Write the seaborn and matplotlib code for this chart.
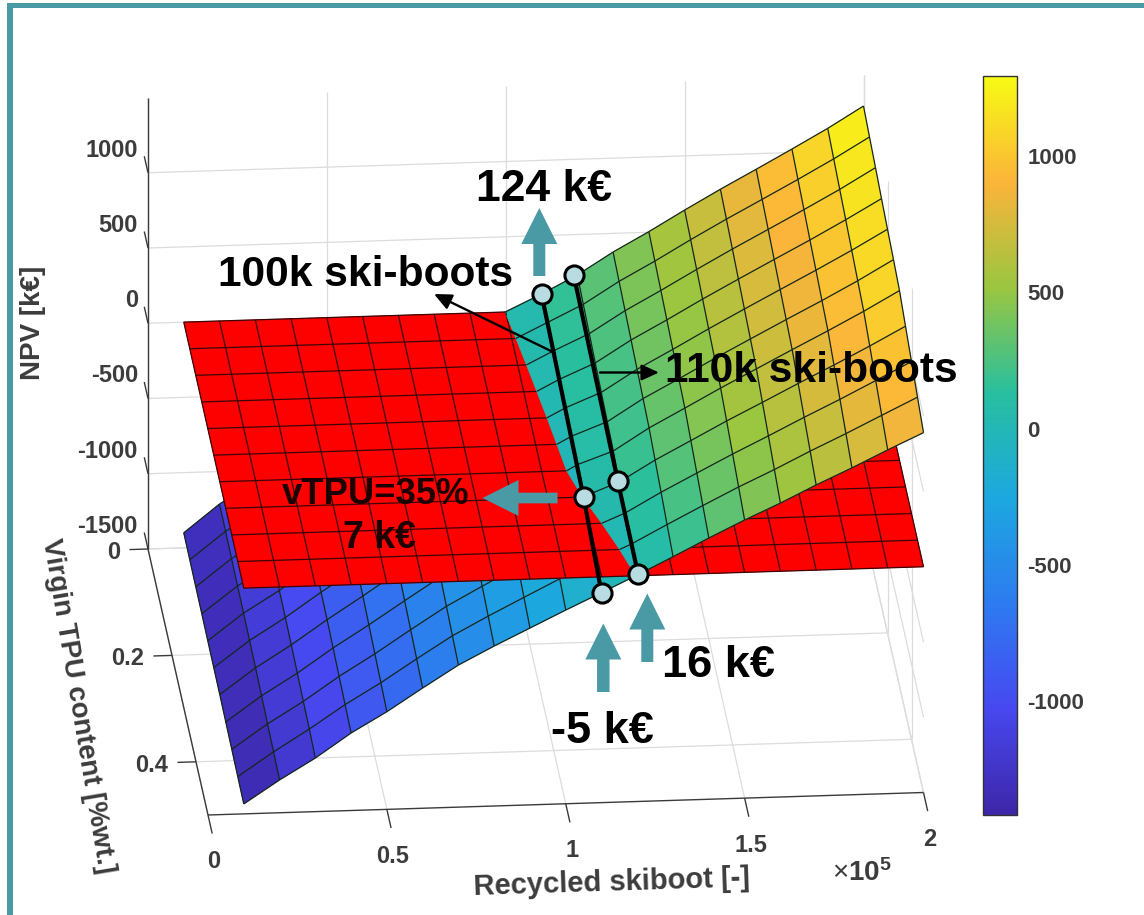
import numpy as np
import matplotlib
matplotlib.use("Agg")
import matplotlib.pyplot as plt
from matplotlib.collections import PolyCollection, LineCollection
from matplotlib.colors import Normalize
from matplotlib.cm import ScalarMappable
from matplotlib.patches import FancyArrow, Rectangle
from matplotlib.transforms import ScaledTranslation
import seaborn as sns

# ---------- data ----------
recycled_boots = [10000, 20000, 30000, 40000, 50000, 60000, 70000, 80000, 90000, 100000,
                  110000, 120000, 130000, 140000, 150000, 160000, 170000, 180000, 190000, 200000]
virgin_tpu = [0.0, 0.05, 0.10, 0.15, 0.20, 0.25, 0.30, 0.35, 0.40, 0.45, 0.50]
# one row per recycled_boots value, one column per virgin_tpu value
npv_surface = [
    [-1400, -1402, -1405, -1407, -1410, -1412, -1414, -1419, -1424, -1429, -1434],
    [-1216, -1221, -1225, -1230, -1234, -1239, -1244, -1253, -1263, -1272, -1282],
    [-1075, -1079, -1083, -1087, -1091, -1094, -1099, -1110, -1121, -1128, -1144],
    [-905, -911, -916, -922, -927, -933, -939, -950, -962, -973, -985],
    [-745, -752, -760, -767, -775, -782, -789, -804, -820, -835, -851],
    [-585, -593, -601, -609, -617, -626, -634, -651, -667, -684, -701],
    [-430, -439, -448, -456, -465, -474, -483, -501, -519, -538, -556],
    [-285, -296, -306, -317, -327, -338, -349, -371, -393, -415, -437],
    [-140, -153, -166, -179, -192, -205, -217, -244, -271, -298, -325],
    [2, -13, -28, -43, -58, -73, -88, -119, -150, -182, -213],
    [112, 100, 88, 76, 63, 51, 39, 3, -33, -69, -105],
    [231, 213, 195, 177, 158, 140, 122, 93, 64, 34, 5],
    [376, 358, 340, 322, 304, 286, 268, 231, 194, 156, 119],
    [504, 485, 467, 448, 429, 410, 392, 353, 314, 275, 236],
    [640, 620, 599, 579, 558, 538, 518, 476, 433, 391, 348],
    [771, 749, 727, 704, 682, 660, 638, 592, 546, 499, 453],
    [896, 873, 850, 827, 804, 781, 758, 710, 662, 614, 566],
    [1023, 998, 974, 949, 925, 900, 876, 825, 774, 723, 672],
    [1153, 1127, 1101, 1076, 1050, 1024, 998, 944, 891, 837, 784],
    [1294, 1265, 1238, 1209, 1182, 1157, 1128, 1068, 1010, 950, 891],
]
npv_plane = 0

scenario_a_boots = [110000, 110000, 110000]
scenario_a_tpu = [0.0, 0.35, 0.5]
scenario_a_npv = [112, 0, -105]
scenario_b_boots = [119000, 119600, 120200]
scenario_b_tpu = [0.0, 0.35, 0.5]
scenario_b_npv = [232, 97, 12]

x_ticks = [0, 50000, 100000, 150000, 200000]
x_tick_labels = ["0", "0.5", "1", "1.5", "2"]
v_ticks = [0, 0.2, 0.4]
v_tick_labels = ["0", "0.2", "0.4"]
z_ticks = [-1500, -1000, -500, 0, 500, 1000]
z_tick_labels = ["-1500", "-1000", "-500", "0", "500", "1000"]
cbar_ticks = [-1000, -500, 0, 500, 1000]
parula_anchors = ["#3E26A8", "#4748F0", "#2D7BF0", "#1CA8DF", "#28BF9F", "#9AC640", "#FBB43A", "#F7FA14"]

TEAL = "#4a9aa6"
FONT = ["Liberation Sans", "DejaVu Sans"]

sns.set_theme(style="white")
plt.rcParams["font.family"] = FONT
plt.rcParams["mathtext.fontset"] = "custom"
plt.rcParams["mathtext.bf"] = "Liberation Sans:bold"
plt.rcParams["mathtext.rm"] = "Liberation Sans"
plt.rcParams["axes.unicode_minus"] = False

X_MAX, V_MAX, Z_MIN, Z_MAX = 200000.0, 0.5, -1500.0, 1500.0


def project(x, v, z):
    """Orthographic view of the MATLAB box onto the figure (pixels)."""
    x, v, z = np.asarray(x, float), np.asarray(v, float), np.asarray(z, float)
    t, s = x / X_MAX, v / V_MAX
    return 148 + 715.5 * t + 60 * s, 549 - 22.5 * t + 266 * s - 0.1505 * (z - Z_MIN)


def clip_polygon(pts, keep_above):
    out = []
    n = len(pts)
    sign = 1 if keep_above else -1
    for i in range(n):
        a, b = pts[i], pts[(i + 1) % n]
        ia, ib = sign * a[2] >= 0, sign * b[2] >= 0
        if ia:
            out.append(a)
        if ia != ib:
            f = a[2] / (a[2] - b[2])
            out.append(a + f * (b - a))
    return out


def clip_segment(a, b, keep_above):
    sign = 1 if keep_above else -1
    ia, ib = sign * a[2] >= 0, sign * b[2] >= 0
    if ia and ib:
        return a, b
    if not ia and not ib:
        return None
    c = a + a[2] / (a[2] - b[2]) * (b - a)
    return (a, c) if ia else (c, b)


def to_px(p):
    px, py = project(p[0], p[1], p[2])
    return [float(px), float(py)]


fig = plt.figure(figsize=(11.44, 9.15), dpi=100)
ax = fig.add_axes([0, 0, 1, 1])
ax.set_xlim(0, 1144)
ax.set_ylim(915, 0)
ax.axis("off")

cmap = sns.blend_palette(parula_anchors, n_colors=256, as_cmap=True)
norm = Normalize(vmin=-1422, vmax=1290)

# ---------- grid on the box walls ----------
GRID = "#dcdcdc"
grid_segments = []
for zt in z_ticks:
    grid_segments.append(((0, 0, zt), (X_MAX, 0, zt)))
    grid_segments.append(((X_MAX, 0, zt), (X_MAX, V_MAX, zt)))
for xt in x_ticks:
    grid_segments.append(((xt, 0, Z_MIN), (xt, 0, Z_MAX)))
    grid_segments.append(((xt, 0, Z_MIN), (xt, V_MAX, Z_MIN)))
for vt in v_ticks:
    grid_segments.append(((0, vt, Z_MIN), (X_MAX, vt, Z_MIN)))
    grid_segments.append(((X_MAX, vt, Z_MIN), (X_MAX, vt, Z_MAX)))
ax.add_collection(LineCollection([[to_px(a), to_px(b)] for a, b in grid_segments],
                                 colors=GRID, linewidths=0.9, zorder=1))

# ---------- axis lines and tick marks ----------
AX = "#3a3a3a"
axis_segments = [((0, 0, Z_MIN), (0, 0, Z_MAX)),
                 ((0, 0, Z_MIN), (0, V_MAX, Z_MIN)),
                 ((0, V_MAX, Z_MIN), (X_MAX, V_MAX, Z_MIN))]
for zt in z_ticks:
    axis_segments.append(((0, 0, zt), (0, -0.031, zt)))
for xt in x_ticks:
    axis_segments.append(((xt, V_MAX, Z_MIN), (xt, V_MAX + 0.035, Z_MIN)))
for vt in v_ticks:
    axis_segments.append(((0, vt, Z_MIN), (-5200, vt, Z_MIN)))
ax.add_collection(LineCollection([[to_px(a), to_px(b)] for a, b in axis_segments],
                                 colors=AX, linewidths=1.0, zorder=1.5))

# ---------- surfaces ----------
bx = np.array(recycled_boots, float)
bv = np.array(virgin_tpu, float)
Z = np.array(npv_surface, float)
faces = {True: [], False: []}
colors = {True: [], False: []}
for i in range(len(bx) - 1):
    for j in range(len(bv) - 1):
        quad = [np.array([bx[i], bv[j], Z[i, j]]), np.array([bx[i + 1], bv[j], Z[i + 1, j]]),
                np.array([bx[i + 1], bv[j + 1], Z[i + 1, j + 1]]), np.array([bx[i], bv[j + 1], Z[i, j + 1]])]
        c = cmap(norm(np.mean([q[2] for q in quad])))
        for above in (True, False):
            poly = clip_polygon(quad, above)
            if len(poly) >= 3:
                faces[above].append([to_px(p) for p in poly])
                colors[above].append(c)

edges = {True: [], False: []}
for i in range(len(bx)):
    for j in range(len(bv)):
        a = np.array([bx[i], bv[j], Z[i, j]])
        nbrs = []
        if i + 1 < len(bx):
            nbrs.append(np.array([bx[i + 1], bv[j], Z[i + 1, j]]))
        if j + 1 < len(bv):
            nbrs.append(np.array([bx[i], bv[j + 1], Z[i, j + 1]]))
        for b in nbrs:
            for above in (True, False):
                seg = clip_segment(a, b, above)
                if seg is not None:
                    edges[above].append([to_px(seg[0]), to_px(seg[1])])

EDGE = "#14261c"
for above, zo in ((False, 2), (True, 4)):
    ax.add_collection(PolyCollection(faces[above], facecolors=colors[above], edgecolors=colors[above],
                                     linewidths=0.4, zorder=zo))
    ax.add_collection(LineCollection(edges[above], colors=EDGE, linewidths=0.9, zorder=zo + 0.1))

red_faces = []
red_edges = []
for i in range(len(bx) - 1):
    for j in range(len(bv) - 1):
        red_faces.append([to_px((bx[i], bv[j], npv_plane)), to_px((bx[i + 1], bv[j], npv_plane)),
                          to_px((bx[i + 1], bv[j + 1], npv_plane)), to_px((bx[i], bv[j + 1], npv_plane))])
for i in range(len(bx)):
    red_edges.append([to_px((bx[i], bv[0], npv_plane)), to_px((bx[i], bv[-1], npv_plane))])
for j in range(len(bv)):
    red_edges.append([to_px((bx[0], bv[j], npv_plane)), to_px((bx[-1], bv[j], npv_plane))])
ax.add_collection(PolyCollection(red_faces, facecolors="#fd0000", edgecolors="#fd0000",
                                 linewidths=0.4, zorder=3))
ax.add_collection(LineCollection(red_edges, colors="#3a0505", linewidths=0.9, zorder=3.1))

# ---------- tick labels and axis labels ----------
TICK = "#3c3c3c"
for zt, lab in zip(z_ticks, z_tick_labels):
    px, py = project(0, 0, zt)
    ax.text(px - 10, py - 22.5, lab, ha="right", va="center", fontsize=17, fontweight="bold", color=TICK)
for vt, lab in zip(v_ticks, v_tick_labels):
    px, py = project(0, vt, Z_MIN)
    ax.text(px - 28, py + 3.5, lab, ha="right", va="center", fontsize=17, fontweight="bold", color=TICK)
for xt, lab in zip(x_ticks, x_tick_labels):
    px, py = project(xt, V_MAX, Z_MIN)
    ax.text(px + 6, py + 47, lab, ha="center", va="center", fontsize=17, fontweight="bold", color=TICK)

ax.text(33, 323, "NPV [k€]", rotation=90, ha="center", va="center", fontsize=20, fontweight="bold", color=TICK)
ax.text(612, 883, "Recycled skiboot [-]", rotation=1.8, ha="center", va="center", fontsize=21,
        fontweight="bold", color=TICK)
ax.text(78, 706, "Virgin TPU content [%wt.]", rotation=-80.5, ha="center", va="center", fontsize=20,
        fontweight="bold", color=TICK, rotation_mode="anchor")
ax.text(862, 873, r"$\times\mathbf{10^{5}}$", ha="center", va="center", fontsize=20, color=TICK)

# ---------- annotation lines and points ----------
for xs, vs, zs, lw in ((scenario_a_boots, scenario_a_tpu, scenario_a_npv, 3.0),
                       (scenario_b_boots, scenario_b_tpu, scenario_b_npv, 3.0)):
    px, py = project(xs, vs, zs)
    sns.lineplot(x=px, y=py, sort=False, estimator=None, color="black", linewidth=lw, ax=ax, zorder=6,
                 legend=False)
    sns.scatterplot(x=px, y=py, s=190, color="#b8dce2", edgecolor="black", linewidth=2.2, ax=ax, zorder=7,
                    legend=False)
ax.set_xlim(0, 1144)
ax.set_ylim(915, 0)
ax.axis("off")

for start, end in (((555, 353), (434, 294)), ((600, 372.5), (659, 372.5))):
    ax.annotate("", xy=end, xytext=start, zorder=6,
                arrowprops=dict(arrowstyle="-|>,head_width=0.32,head_length=0.7", color="black", lw=1.7,
                                shrinkA=0, shrinkB=0, mutation_scale=15))

# big teal arrows: tail x, tail y, dx, dy, shaft width
teal_arrows = [(539.3, 276, 0, -68, 12), (603.3, 692, 0, -68.5, 12.5),
               (647.3, 662, 0, -68.5, 12), (557.5, 498, -75, 0, 10.7)]
for x0, y0, dx, dy, w in teal_arrows:
    ax.add_patch(FancyArrow(x0, y0, dx, dy, width=w, head_width=36, head_length=36,
                            length_includes_head=True, color=TEAL, linewidth=0, zorder=6.5))

labels = [("124 k€", 544, 189.5, 32, "black"), ("100k ski-boots", 366, 274.5, 30.6, "black"),
          ("110k ski-boots", 811, 371.5, 30.6, "black"), ("vTPU=35%", 376, 494.5, 26.3, "#1c0000"),
          ("7 k€", 379, 537.5, 27, "#1c0000"), ("16 k€", 719, 665.5, 32.5, "black"),
          ("-5 k€", 602, 731.5, 32.5, "black")]
for s, x0, y0, fs, col in labels:
    ax.text(x0, y0, s, ha="center", va="center", fontsize=fs, fontweight="bold", color=col, zorder=8)

# ---------- page border ----------
ax.add_patch(Rectangle((7, 3), 6, 912, color=TEAL, linewidth=0, zorder=9))
ax.add_patch(Rectangle((7, 3), 1137, 5, color=TEAL, linewidth=0, zorder=9))

# ---------- colourbar ----------
cax = fig.add_axes([983 / 1144, 1 - 815 / 915, 34 / 1144, 739 / 915])
cb = fig.colorbar(ScalarMappable(norm=norm, cmap=cmap), cax=cax, ticks=cbar_ticks)
cb.outline.set_edgecolor("#333333")
cb.outline.set_linewidth(1.0)
cb.ax.tick_params(direction="in", length=5, width=0.9, color="#333333", pad=7.5, labelsize=16, labelcolor=TICK)
shift = ScaledTranslation(0, -1 / 72 * 0.72, fig.dpi_scale_trans)
for t in cb.ax.get_yticklabels():
    t.set_fontweight("bold")
    t.set_transform(t.get_transform() + shift)

fig.savefig("out.png", dpi=100, facecolor="white")
